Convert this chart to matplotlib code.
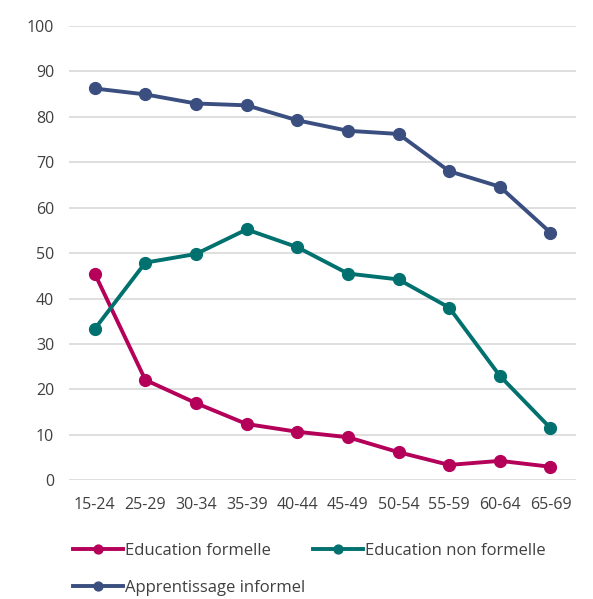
import matplotlib
matplotlib.use("Agg")
import matplotlib.pyplot as plt

categories = ["15-24", "25-29", "30-34", "35-39", "40-44", "45-49", "50-54", "55-59", "60-64", "65-69"]
formelle = [45.5, 22.1, 17.0, 12.4, 10.7, 9.5, 6.2, 3.4, 4.3, 3.0]
non_formelle = [33.3, 47.9, 49.8, 55.2, 51.3, 45.5, 44.2, 38.0, 23.0, 11.5]
informel = [86.2, 84.9, 82.9, 82.5, 79.2, 76.9, 76.2, 68.0, 64.6, 54.5]
yticks = [0, 10, 20, 30, 40, 50, 60, 70, 80, 90, 100]

plt.rcParams['font.family'] = ['Open Sans', 'DejaVu Sans']

fig = plt.figure(figsize=(5.93, 5.99), dpi=100)
ax = fig.add_axes([0.117, 0.198, 0.854, 0.759])

x = list(range(len(categories)))
c_f = "#b5005a"
c_nf = "#00716f"
c_i = "#3a4f80"
lw = 2.8
ms = 8.5
h1, = ax.plot(x, formelle, color=c_f, lw=lw, marker="o", ms=ms, label="Education formelle", zorder=3)
h2, = ax.plot(x, non_formelle, color=c_nf, lw=lw, marker="o", ms=ms, label="Education non formelle", zorder=3)
h3, = ax.plot(x, informel, color=c_i, lw=lw, marker="o", ms=ms, label="Apprentissage informel", zorder=3)

ax.set_xlim(-0.5, 9.5)
ax.set_ylim(0, 100)
ax.set_yticks(yticks)
ax.set_xticks(x)
ax.set_xticklabels(categories)
ax.grid(axis="y", color="#dcdcdc", lw=1.3)
ax.set_axisbelow(True)
for s in ax.spines.values():
    s.set_visible(False)
ax.tick_params(length=0, labelsize=11.5, labelcolor="#404040")
ax.tick_params(axis="x", pad=12)
ax.tick_params(axis="y", pad=11)

leg = fig.legend([h1, h3, h2], ["Education formelle", "Apprentissage informel", "Education non formelle"],
                 ncol=2, loc="upper left", bbox_to_anchor=(0.112, 0.105), frameon=False,
                 fontsize=12, handlelength=3.0, handletextpad=0.1, columnspacing=0.5,
                 labelspacing=1.25, markerscale=0.75, borderaxespad=0)
for t in leg.get_texts():
    t.set_color("#404040")

fig.savefig("out.png", dpi=100)
